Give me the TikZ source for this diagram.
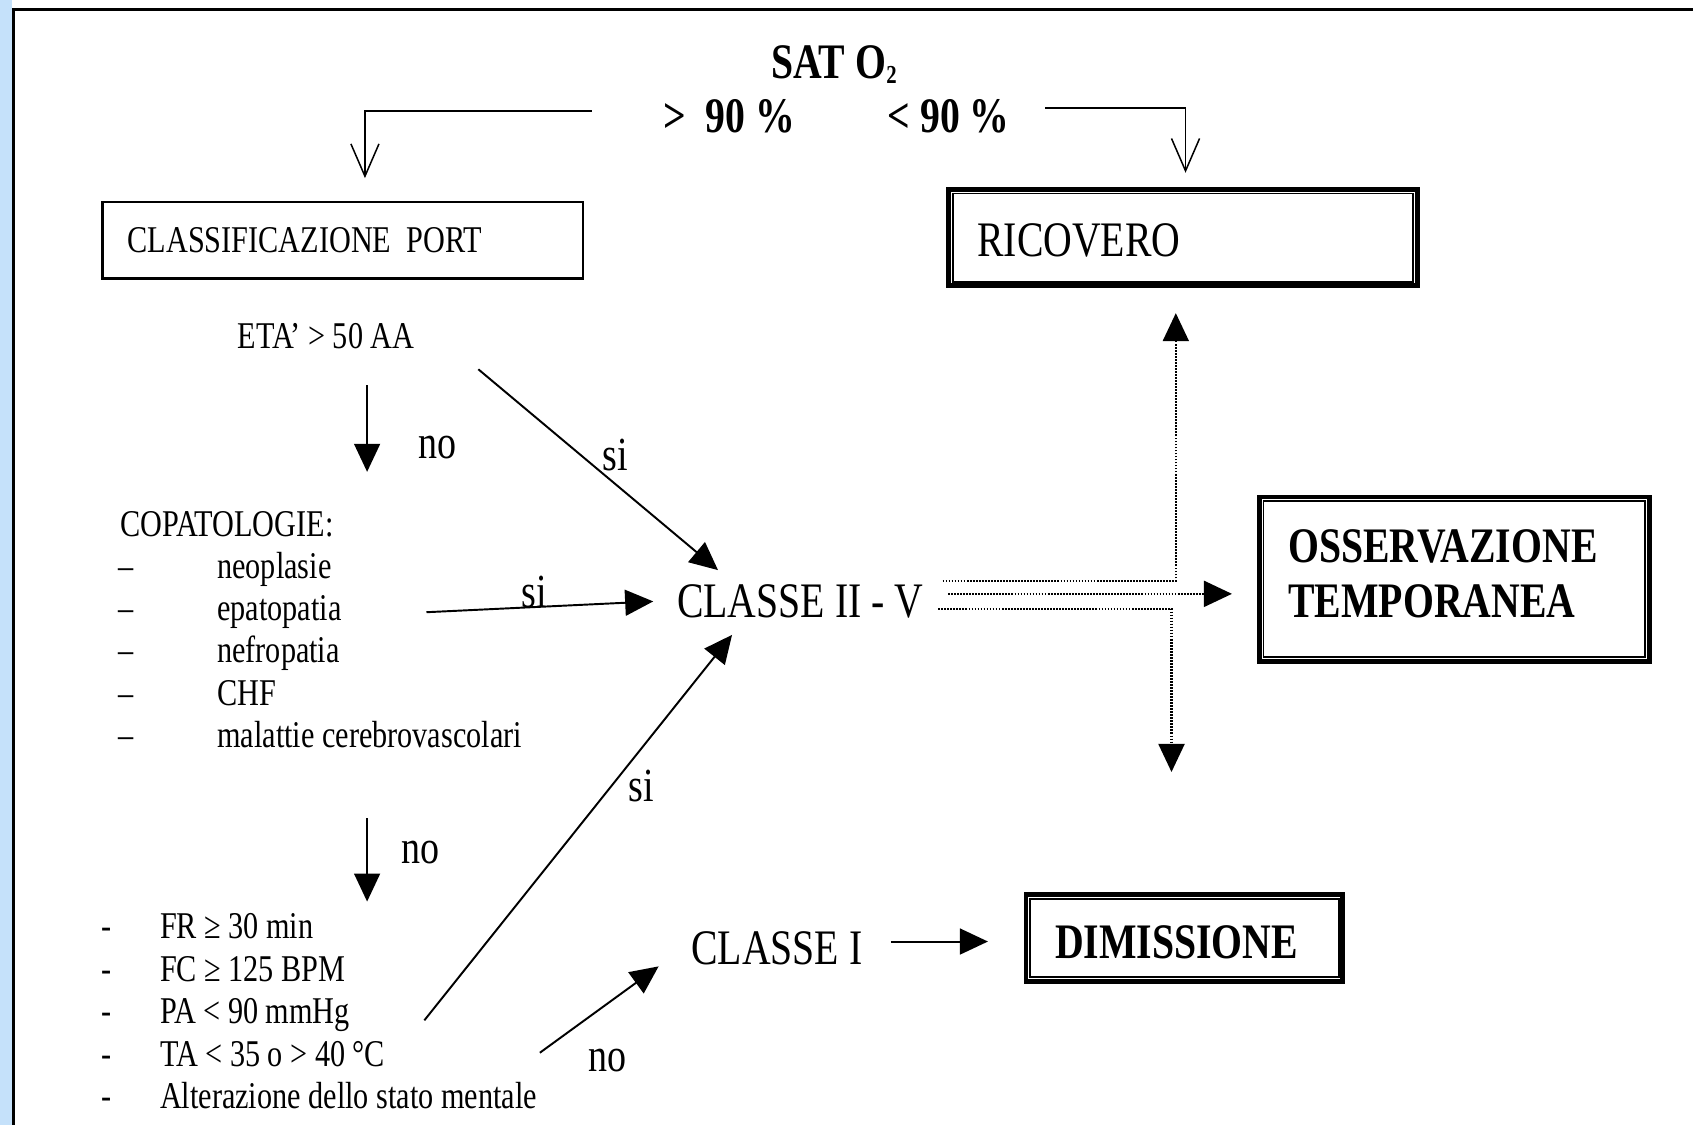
\documentclass[tikz,border=0pt]{standalone}
\usepackage{fontspec}
\setmainfont[FakeStretch=0.8]{Liberation Serif}
\usetikzlibrary{arrows.meta}
\definecolor{side}{RGB}{197,225,250}
\newcommand{\fs}[1]{\fontsize{#1}{#1}\selectfont}
\begin{document}
\begin{tikzpicture}[x=1pt,y=-1pt,
  txt/.style={inner sep=0pt, anchor=base west},
  small/.style={txt, font=\fs{35}},
  big/.style={txt, font=\fs{46}},
  bigb/.style={txt, font=\bfseries\fs{46}},
  lab/.style={txt, font=\fs{44}},
  sol/.style={line width=1.8pt},
  arr/.style={sol, -{Triangle[length=26pt,width=24pt]}},
  varr/.style={line width=1.4pt, -{Straight Barb[length=30pt,width=26pt,line width=1.4pt]}},
  dotl/.style={line width=2.2pt, dash pattern=on 1.6pt off 1.2pt},
  darr/.style={dotl, -{Triangle[length=26pt,width=24pt]}},
  dblo/.style={draw, line width=4.5pt, inner sep=0pt},
  ]
\useasboundingbox (0,0) rectangle (1568,1042);
\fill[side] (0,0) rectangle (11,1042);
\draw[line width=2.5pt] (1568,8.5) -- (12.5,8.5) -- (12.5,1042);

% top
\node[bigb] (sat) at (714,73) {SAT O\raisebox{-4pt}{\fs{24}2}};
\node[bigb] (gt) at (614,123) {>\ \ 90 \%};
\node[bigb] (lt) at (822,123) {< 90 \%};
\coordinate (l1) at (548,103); \coordinate (l2) at (338,165);
\coordinate (r1) at (968,100); \coordinate (r2) at (1098,160);
\draw[varr] (l1) -| (l2);
\draw[varr] (r1) -| (r2);

% boxes
\node[draw, line width=2pt, minimum width=445pt, minimum height=71pt, inner sep=0pt] (cls) at (317.5,222.5) {};
\node[small] (clst) at (118,234) {CLASSIFICAZIONE\ \ PORT};

\node[dblo, minimum width=434.5pt, minimum height=89.5pt] (ric) at (1095.5,220) {};
\draw[line width=1.8pt] ([shift={(6.2,6.2)}]ric.north west) rectangle ([shift={(-6.2,-6.2)}]ric.south east);
\node[big] (ricT) at (905,238) {RICOVERO};

\node[dblo, minimum width=361.5pt, minimum height=152.5pt] (oss) at (1347,536.5) {};
\draw[line width=1.8pt] ([shift={(6.2,6.2)}]oss.north west) rectangle ([shift={(-6.2,-6.2)}]oss.south east);
\node[bigb] (oss1) at (1193,521) {OSSERVAZIONE};
\node[bigb] (oss2) at (1193,572) {TEMPORANEA};

\node[dblo, minimum width=293.5pt, minimum height=80.5pt] (dim) at (1097,868.5) {};
\draw[line width=1.8pt] ([shift={(6.2,6.2)}]dim.north west) rectangle ([shift={(-6.2,-6.2)}]dim.south east);
\node[bigb] (dimT) at (977,888) {DIMISSIONE};

% left column
\node[small] (eta) at (220,323) {ETA’ > 50 AA};
\coordinate (a1s) at (340,357); \coordinate (a1e) at (340,437);
\draw[arr] (a1s) -- (a1e);
\node[lab] (no1) at (387,425) {no};
\coordinate (a2s) at (443,342); \coordinate (a2e) at (665,528);
\draw[arr] (a2s) -- (a2e);
\node[lab] (si1) at (558,436) {si};

\node[small] (cop) at (111,497) {COPATOLOGIE:};
\foreach \t [count=\i] in {neoplasie,epatopatia,nefropatia,CHF,malattie cerebrovascolari}{
  \node[small] (d\i) at (110,497+39*\i) {–};
  \node[small] (c\i) at (201,497+39*\i) {\t};
}
\coordinate (a3s) at (395,567); \coordinate (a3e) at (605,557);
\draw[arr] (a3s) -- (a3e);
\node[lab] (si2) at (483,563) {si};

\node[big] (cl2) at (627,572) {CLASSE II - V};
\coordinate (a4s) at (393,945); \coordinate (a4e) at (678,588);
\draw[arr] (a4s) -- (a4e);
\node[lab] (si3) at (582,742) {si};

\coordinate (a5s) at (340,758); \coordinate (a5e) at (340,835);
\draw[arr] (a5s) -- (a5e);
\node[lab] (no2) at (372,800) {no};

\foreach \t [count=\i] in {FR ≥ 30 min,FC ≥ 125 BPM,PA < 90 mmHg,TA < 35 o > 40 °C,Alterazione dello stato mentale}{
  \node[small] (f\i) at (94,830+39.4*\i) {-};
  \node[small] (g\i) at (148,830+39.4*\i) {\t};
}
\coordinate (a6s) at (500,975); \coordinate (a6e) at (610,895);
\draw[arr] (a6s) -- (a6e);
\node[lab] (no3) at (545,992) {no};

\node[big] (cl1) at (640,893) {CLASSE I};
\coordinate (a7s) at (825,872); \coordinate (a7e) at (915,872);
\draw[arr] (a7s) -- (a7e);

% dotted
\coordinate (t1) at (873,538); \coordinate (t2) at (1089,290);
\draw[darr] (t1) -| (t2);
\coordinate (m1) at (878,550); \coordinate (m2) at (1141,550);
\draw[darr] (m1) -- (m2);
\coordinate (b1) at (869,564); \coordinate (b2) at (1085,715);
\draw[darr] (b1) -| (b2);
\end{tikzpicture}
\end{document}
